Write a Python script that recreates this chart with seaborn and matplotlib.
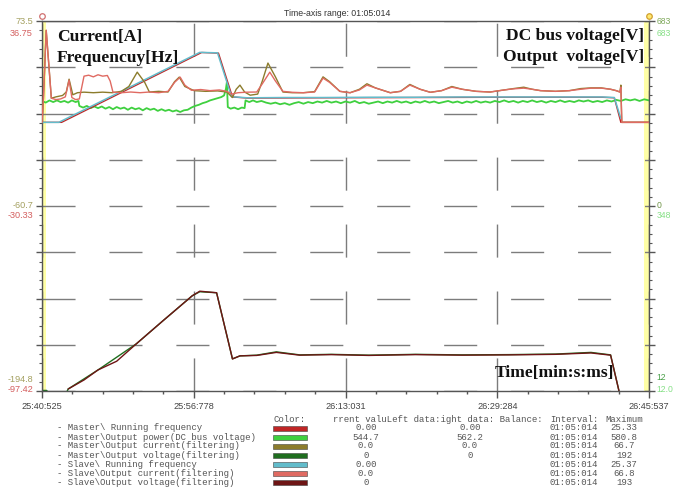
import matplotlib
matplotlib.use("Agg")
import numpy as np
import matplotlib.pyplot as plt
from matplotlib.patches import Rectangle
from matplotlib.ticker import AutoMinorLocator
import seaborn as sns

W, H = 673, 491

# ---- time axis: seconds after 25:40:525, window length 01:05:014 ----
t_span = 65.014
x_tick_labels = ["25:40:525", "25:56:778", "26:13:031", "26:29:284", "26:45:537"]

# ---- axis ranges of the three scales ----
freq_range = (-97.42, 36.75)     # Hz (red scale, left)
curr_range = (-194.8, 73.5)      # A  (olive scale, left)
volt_range = (12.0, 683.0)       # V  (green scale, right)

# ---- series ----
slave_freq_t = [0.0, 1.8, 16.9, 18.8, 20.3, 22.0, 26.0, 30.0, 35.0, 40.0, 45.0, 50.0, 55.0, 60.0, 61.3, 62.0]
slave_freq = [0.0, 0.0, 25.37, 25.2, 9.3, 8.9, 9.0, 9.0, 9.1, 9.1, 9.2, 9.2, 9.2, 9.2, 9.0, 1.4]

master_freq_t = [0.0, 2.1, 17.1, 18.9, 20.4, 22.0, 30.0, 40.0, 50.0, 60.0, 61.3, 62.0, 65.0]
master_freq = [0.0, 0.0, 25.33, 25.1, 9.2, 8.8, 8.9, 9.0, 9.1, 9.1, 8.9, 0.0, 0.0]

slave_curr_t = [0.0, 0.15, 0.45, 0.75, 1.0, 1.5, 2.0, 2.5, 2.9, 3.2, 3.6, 4.0, 4.5, 5.0, 5.5,
                6.0, 6.5, 7.0, 7.3, 7.6, 8.5, 9.5, 10.5, 11.5, 12.5, 13.5, 14.2, 14.8, 15.3, 16.0,
                17.0, 18.0, 19.0, 19.8, 20.3, 21.0, 22.0, 23.0, 23.6, 24.4, 25.0, 25.8, 26.8, 28.0, 29.2,
                30.1, 30.8, 31.9, 33.0, 34.0, 34.8, 35.7, 37.3, 38.4, 39.4, 40.5, 41.6, 42.8, 43.9, 45.0,
                46.5, 48.0, 49.5, 50.5, 51.6, 52.5, 53.4, 55.0, 56.5, 57.7, 58.8, 59.9, 60.9, 61.5, 61.9,
                62.0, 62.1, 65.0]
slave_curr = [0.0, 17.0, 66.8, 40.0, 17.5, 16.5, 17.0, 18.5, 30.6, 18.0, 16.5, 17.0, 33.5, 34.2, 33.0,
              34.5, 33.5, 34.0, 30.0, 21.9, 21.5, 22.0, 21.5, 22.0, 21.5, 22.5, 29.0, 32.8, 27.0, 23.3,
              23.8, 23.0, 23.5, 22.5, 20.5, 21.5, 21.9, 22.0, 28.0, 36.4, 30.0, 22.5, 21.8, 21.5, 22.0,
              32.1, 29.0, 22.5, 21.5, 23.5, 27.0, 25.0, 21.5, 22.5, 27.0, 24.0, 21.8, 23.0, 25.5, 24.0,
              22.5, 22.0, 23.5, 24.3, 24.8, 24.0, 23.0, 22.5, 23.0, 24.0, 24.8, 24.8, 24.0, 23.0, 22.0,
              25.5, 0.0, 0.0]

master_curr_t = [0.0, 0.15, 0.45, 0.75, 1.0, 1.5, 2.2, 2.6, 2.9, 3.3, 3.8, 4.5, 5.5, 6.5, 7.5,
                 8.5, 9.3, 10.2, 11.0, 11.5, 12.5, 13.5, 14.2, 14.7, 15.3, 16.3, 17.5, 18.8, 19.8, 20.4,
                 20.8, 21.2, 21.7, 22.3, 23.1, 23.6, 24.2, 25.0, 25.8, 26.8, 28.0, 29.2, 30.1, 30.8, 31.9,
                 33.0, 34.0, 34.8, 35.7, 37.3, 38.4, 39.4, 40.5, 41.6, 42.8, 43.9, 45.0, 46.5, 48.0, 49.5,
                 50.5, 51.6, 52.5, 53.4, 55.0, 56.5, 57.7, 58.8, 59.9, 60.9, 61.5, 61.9, 62.0, 62.1, 65.0]
master_curr = [0.0, 17.0, 66.7, 40.0, 17.5, 18.5, 19.5, 22.0, 31.3, 20.0, 21.5, 21.9, 21.5, 21.9, 21.5,
               22.5, 26.0, 36.4, 29.0, 22.0, 22.5, 22.0, 29.5, 32.8, 26.0, 23.0, 22.5, 22.8, 22.0, 18.0,
               24.0, 27.0, 22.0, 19.7, 20.5, 30.0, 43.0, 33.0, 22.0, 21.5, 21.5, 22.3, 33.0, 29.5, 22.5,
               21.5, 24.0, 28.0, 25.0, 21.5, 22.5, 27.5, 24.0, 21.8, 23.0, 26.0, 24.0, 22.5, 22.0, 23.5,
               24.5, 25.5, 24.0, 23.0, 22.5, 23.0, 24.5, 25.0, 25.0, 24.0, 23.0, 22.0, 27.0, 0.0, 0.0]

dc_bus_t = [0.0, 0.4, 0.8, 1.2, 1.6, 2.0, 2.4, 2.8, 3.2, 3.6, 3.9, 4.0, 4.4, 4.8, 5.2, 5.6, 6.0, 6.4,
            6.8, 7.2, 7.6, 8.0, 8.4, 8.8, 9.2, 9.6, 10.0, 10.4, 10.8, 11.2, 11.6, 12.0, 12.4, 12.8,
            13.2, 13.6, 14.0, 14.4, 14.8, 15.2, 15.6, 16.0, 16.4, 16.8, 17.2, 17.6, 18.0, 18.4, 18.8,
            19.2, 19.5, 19.7, 19.8, 19.9, 20.2, 20.6, 21.0, 21.4, 21.7, 21.8, 22.2, 22.6, 23.0, 23.5,
            24.0, 24.5, 25.0, 25.5, 26.0, 26.5, 27.0, 27.5, 28.0, 28.5, 29.0, 29.5, 30.0, 30.5, 31.0,
            31.5, 32.0, 32.5, 33.0, 33.5, 34.0, 34.5, 35.0, 35.5, 36.0, 36.5, 37.0, 37.5, 38.0, 38.5,
            39.0, 39.5, 40.0, 40.5, 41.0, 41.5, 42.0, 42.5, 43.0, 43.5, 44.0, 44.5, 45.0, 45.5, 46.0,
            46.5, 47.0, 47.5, 48.0, 48.5, 49.0, 49.5, 50.0, 50.5, 51.0, 51.5, 52.0, 52.5, 53.0, 53.5,
            54.0, 54.5, 55.0, 55.5, 56.0, 56.5, 57.0, 57.5, 58.0, 58.5, 59.0, 59.5, 60.0, 60.5, 61.0,
            61.5, 62.0, 62.5, 63.0, 63.5, 64.0, 64.5, 65.0]
dc_bus_v = [538, 535, 539, 536, 539, 536, 538, 535, 539, 536, 538, 529, 526, 529, 525, 528, 525, 528,
            524, 527, 523, 527, 524, 526, 522, 526, 523, 525, 521, 525, 522, 524, 520, 523,
            520, 522, 519, 521, 518, 521, 522, 526, 529, 531, 534, 536, 539, 541, 543,
            545, 548, 560, 572, 527, 524, 526, 523, 526, 525, 539, 536, 539, 536, 538,
            535, 533, 535, 532, 534, 531, 534, 536, 533, 536, 534, 537, 535, 538, 535,
            537, 534, 537, 535, 538, 534, 536, 533, 535, 537, 534, 537, 535, 538, 535,
            537, 534, 537, 535, 538, 535, 537, 534, 536, 538, 535, 537, 534, 537, 535,
            538, 535, 537, 535, 538, 536, 539, 536, 538, 535, 538, 536, 539, 536, 538,
            535, 538, 536, 539, 536, 538, 536, 539, 537, 539, 536, 538, 536, 539, 537,
            540, 538, 541, 539, 541, 538, 541, 539]

master_volt_t = [0.0, 0.5, 0.7, 2.6, 2.8, 6.0, 10.1, 13.0, 16.1, 16.9, 18.7, 20.4, 21.2, 23.0, 25.1,
                 27.6, 31.0, 35.0, 40.0, 45.0, 50.0, 55.0, 58.8, 60.9, 61.8]
master_volt = [13.0, 13.0, 8.0, 8.0, 15.6, 50.2, 97.5, 140.0, 184.8, 192.0, 190.2, 70.2, 75.7, 77.0, 83.0,
               77.5, 78.5, 77.0, 78.5, 77.5, 78.0, 79.0, 82.0, 77.5, 12.0]

slave_volt_t = [2.8, 4.5, 6.0, 8.0, 10.1, 13.0, 16.1, 16.9, 18.7, 20.4, 21.2, 23.0, 25.1,
                27.6, 31.0, 35.0, 40.0, 45.0, 50.0, 55.0, 58.8, 60.9, 61.8]
slave_volt = [15.6, 32.0, 50.2, 66.0, 97.5, 140.0, 184.8, 193.0, 190.2, 70.2, 75.7, 76.5, 82.0,
              77.0, 78.0, 76.5, 78.0, 77.0, 77.5, 78.5, 81.0, 77.0, 12.0]

# ---- table under the chart ----
legend_labels = [r"- Master\ Running frequency",
                 r"- Master\Output power(DC bus voltage)",
                 r"- Master\Output current(filtering)",
                 r"- Master\Output voltage(filtering)",
                 r"- Slave\ Running frequency",
                 r"- Slave\Output current(filtering)",
                 r"- Slave\Output voltage(filtering)"]
legend_colors = ["#c02525", "#3fd03f", "#8c7c2c", "#1f6e1f", "#62bccb", "#e06a62", "#6e1515"]
current_values = ["0.00", "544.7", "0.0", "0", "0.00", "0.0", "0"]
left_values = ["0.00", "562.2", "0.0", "0", "", "", ""]
interval_values = ["01:05:014"] * 7
maximum_values = ["25.33", "580.8", "66.7", "192", "25.37", "66.8", "193"]

# ---- style ----
sns.set_theme(style="white")
plt.rcParams["font.family"] = ["Liberation Sans", "DejaVu Sans"]


def fx(px):
    return px / W


def fy(py):
    return 1 - py / H


fig = plt.figure(figsize=(W / 100, H / 100), dpi=100)
fig.patch.set_facecolor("white")
ax = fig.add_axes([42 / W, 1 - 391 / H, 607 / W, 370 / H])
ax.set_facecolor("white")
ax.set_xlim(0, t_span)
ax.set_ylim(*volt_range)

ax_f = ax.twinx()
ax_f.set_ylim(*freq_range)
ax_f.set_axis_off()
ax_i = ax.twinx()
ax_i.set_ylim(*curr_range)
ax_i.set_axis_off()

# grid: 4 x-divisions, 8 y-divisions, long dashes
ax.set_xticks(np.linspace(0, t_span, 5))
ax.set_xticklabels(x_tick_labels, fontsize=6.6, color="#444444")
ax.set_yticks(np.linspace(volt_range[0], volt_range[1], 9))
ax.xaxis.set_minor_locator(AutoMinorLocator(5))
ax.yaxis.set_minor_locator(AutoMinorLocator(5))
ax.grid(True, which="major", color="#7c7c7c", linewidth=1.0, linestyle=(0, (23.8, 24.4)))
ax.tick_params(axis="x", which="major", bottom=True, direction="out", length=5, width=1,
               color="#555555", pad=3)
ax.tick_params(axis="x", which="minor", bottom=True, direction="out", length=2.5, width=1,
               color="#555555")
ax.tick_params(axis="y", which="major", left=True, right=True, direction="out", length=4, width=1,
               color="#555555", labelleft=False, labelright=False)
ax.tick_params(axis="y", which="minor", left=True, right=True, direction="out", length=2, width=0.8,
               color="#555555")
for side in ["left", "right", "bottom", "top"]:
    ax.spines[side].set_color("#555555")
    ax.spines[side].set_linewidth(1.0)
    ax.spines[side].set_visible(True)

# yellow bands along both vertical axes
ax.add_patch(Rectangle((0, 0), 4 / 607, 1, transform=ax.transAxes, facecolor="#ffffa6",
                       edgecolor="none", zorder=0.5))
ax.add_patch(Rectangle((602 / 607, 0), 5 / 607, 1, transform=ax.transAxes, facecolor="#ffffa6",
                       edgecolor="none", zorder=0.5))

# cursor handles on top of the axes
ax.plot([0], [1.014], transform=ax.transAxes, marker="o", ms=4, mfc="white", mec="#d07070",
        mew=0.9, clip_on=False, zorder=5)
ax.plot([1], [1.014], transform=ax.transAxes, marker="o", ms=4, mfc="#ffe870", mec="#d0a030",
        mew=0.9, clip_on=False, zorder=5)


def draw(target, t, v, color, lw):
    sns.lineplot(x=t, y=v, ax=target, color=color, linewidth=lw, estimator=None, sort=False,
                 legend=False)


# voltages (right scale)
draw(ax, dc_bus_t, dc_bus_v, legend_colors[1], 1.3)
draw(ax, master_volt_t, master_volt, legend_colors[3], 1.0)
draw(ax, slave_volt_t, slave_volt, legend_colors[6], 1.0)
# frequencies (red left scale)
draw(ax_f, master_freq_t, master_freq, legend_colors[0], 1.0)
draw(ax_f, slave_freq_t, slave_freq, legend_colors[4], 1.1)
# currents (olive left scale)
draw(ax_i, master_curr_t, master_curr, legend_colors[2], 1.0)
draw(ax_i, slave_curr_t, slave_curr, legend_colors[5], 1.0)

ax.set_xlabel("")
ax.set_ylabel("")
ax_f.set_ylabel("")
ax_i.set_ylabel("")

# scale labels at top, middle and bottom of both vertical axes
tick_fs = 6.6
olive_txt, red_txt = "#a4a060", "#d45f5f"
for y, txt, col in [(22, "73.5", olive_txt), (33, "36.75", red_txt),
                    (206, "-60.7", olive_txt), (216, "-30.33", red_txt),
                    (379, "-194.8", olive_txt), (390, "-97.42", red_txt)]:
    fig.text(fx(33), fy(y), txt, ha="right", va="center", fontsize=tick_fs, color=col)
for y, txt, col in [(22, "683", "#7ea85a"), (33, "683", "#86e086"),
                    (206, "0", "#6f9446"), (216, "348", "#86e086"),
                    (378, "12", "#4aa04a"), (389, "12.0", "#86e086")]:
    fig.text(fx(656.5), fy(y), txt, ha="left", va="center", fontsize=6.2, color=col)

fig.text(fx(337), fy(14), "Time-axis range: 01:05:014", ha="center", va="center", fontsize=6.3,
         color="#333333")

serif = dict(family=["Liberation Serif", "DejaVu Serif"], weight="bold", fontsize=12.6, color="#111111")
fig.text(fx(57), fy(37), "Current[A]", ha="left", va="center", **serif)
fig.text(fx(57), fy(58), "Frequencuy[Hz]", ha="left", va="center", **serif)
fig.text(fx(644), fy(36), "DC bus voltage[V]", ha="right", va="center", **serif)
fig.text(fx(644), fy(57), "Output  voltage[V]", ha="right", va="center", **serif)
fig.text(fx(495), fy(373), "Time[min:s:ms]", ha="left", va="center", **serif)

# data table
mono = dict(family=["Liberation Mono", "DejaVu Sans Mono"], fontsize=6.5, color="#555555")
hdr_y = 419
fig.text(fx(274), fy(hdr_y), "Color:", ha="left", va="center", **mono)
fig.text(fx(333), fy(hdr_y), "rrent valuLeft data:ight data: Balance:", ha="left", va="center", **mono)
fig.text(fx(550), fy(hdr_y), "Interval:", ha="left", va="center", **mono)
fig.text(fx(605), fy(hdr_y), "Maximum", ha="left", va="center", **mono)
row_y = [428, 437, 446, 455.5, 464.5, 473.5, 482.5]
for i, y in enumerate(row_y):
    fig.text(fx(57), fy(y), legend_labels[i], ha="left", va="center", **mono)
    fig.patches.append(Rectangle((fx(273), fy(y + 2.5)), 34 / W, 5 / H, transform=fig.transFigure,
                                 facecolor=legend_colors[i], edgecolor="#444444", linewidth=0.4))
    fig.text(fx(366), fy(y), current_values[i], ha="center", va="center", **mono)
    if left_values[i]:
        fig.text(fx(470), fy(y), left_values[i], ha="center", va="center", **mono)
    fig.text(fx(550), fy(y), interval_values[i], ha="left", va="center", **mono)
    fig.text(fx(624), fy(y), maximum_values[i], ha="center", va="center", **mono)

fig.savefig("out.png", dpi=100)
